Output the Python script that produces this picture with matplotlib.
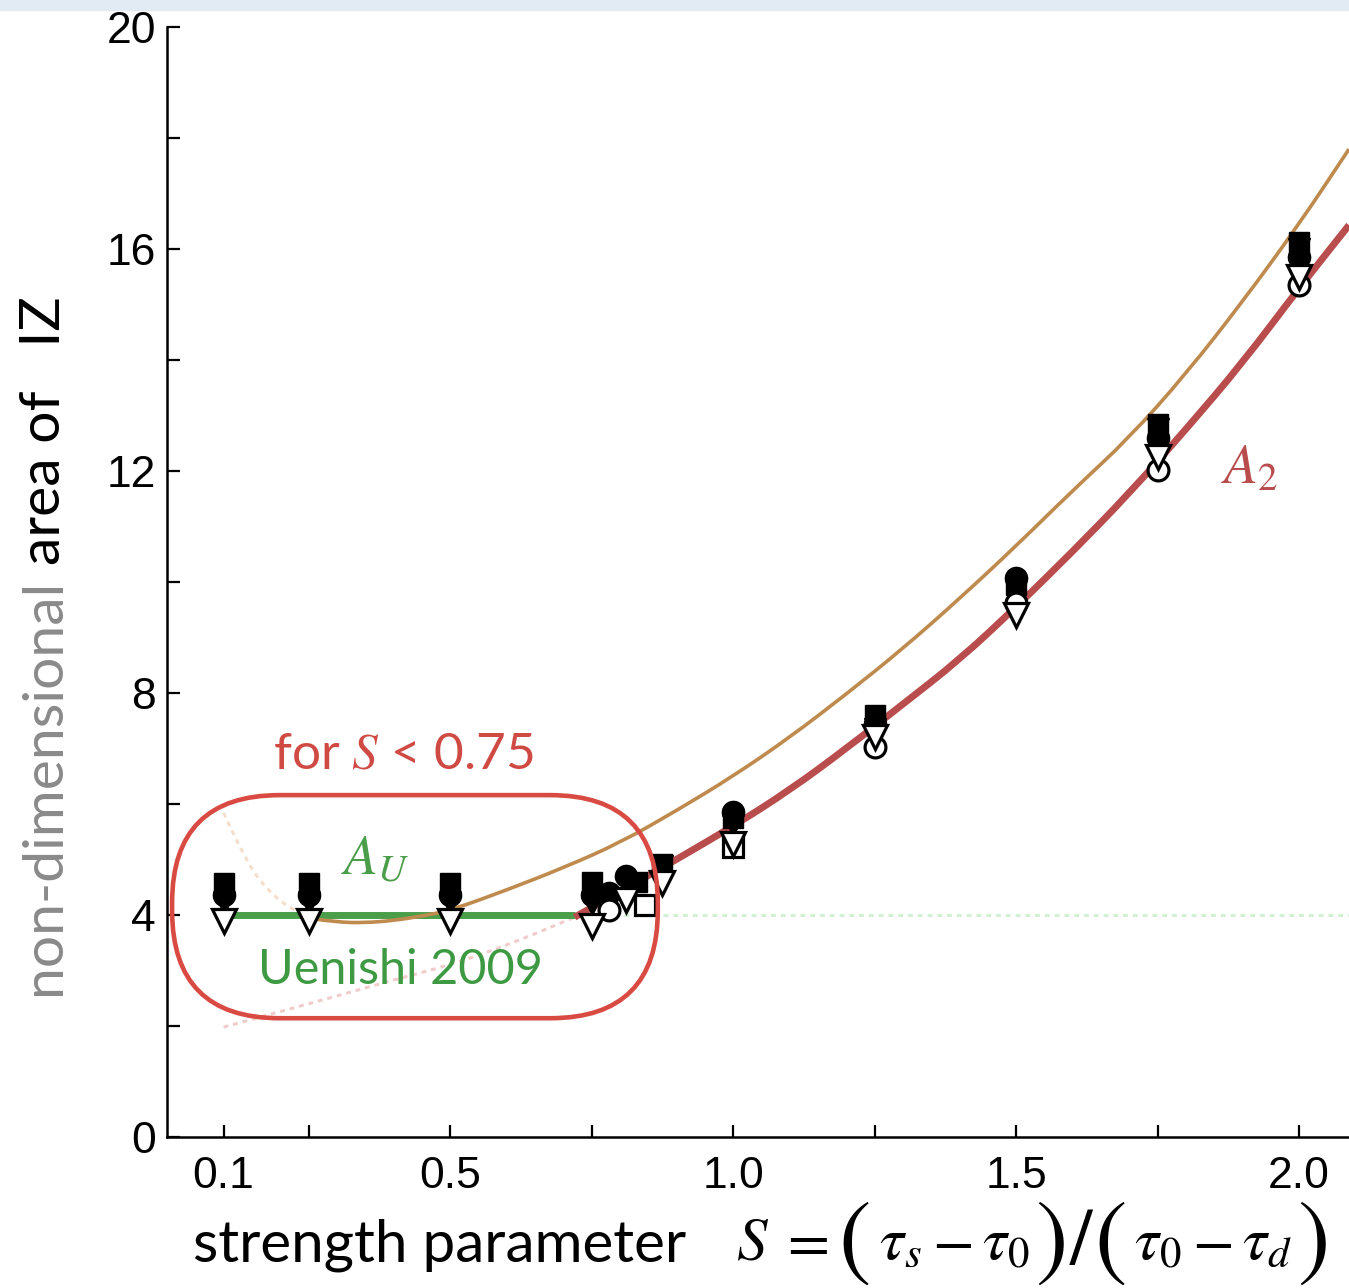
import matplotlib
matplotlib.use("Agg")
import matplotlib.pyplot as plt
from matplotlib.patches import FancyBboxPatch, Rectangle, PathPatch
from matplotlib.path import Path

plt.rcParams['mathtext.fontset'] = 'stix'

W, H = 1349, 1288

# uniform-stress solution (Uenishi 2009)
au_s = [0.1, 0.72]
au_v = [4.0, 4.0]
au_ext_s = [0.72, 2.088]

# A2 curve, read along S
a2_s = [0.1, 0.2, 0.3, 0.4, 0.5, 0.6, 0.72, 0.8, 0.9, 1.0, 1.1, 1.2, 1.3,
        1.4, 1.5, 1.6, 1.7, 1.8, 1.9, 2.0, 2.088]
a2_v = [1.98, 2.26, 2.54, 2.83, 3.1, 3.45, 3.96, 4.42, 5.0, 5.6, 6.25, 7.0,
        7.8, 8.6, 9.55, 10.55, 11.6, 12.75, 13.95, 15.3, 16.43]

# second fitted curve (thin)
fit_s = [0.1, 0.14, 0.18, 0.22, 0.26, 0.3, 0.35, 0.4, 0.45, 0.5, 0.6, 0.7,
         0.8, 0.9, 1.0, 1.1, 1.2, 1.3, 1.4, 1.5, 1.6, 1.7, 1.8, 1.9, 2.0, 2.088]
fit_v = [5.84, 4.95, 4.42, 4.1, 3.93, 3.87, 3.86, 3.9, 3.98, 4.08, 4.45, 4.85,
         5.3, 5.88, 6.5, 7.2, 7.98, 8.8, 9.7, 10.65, 11.65, 12.6, 13.75, 15.05,
         16.45, 17.8]

# simulation results
sq_f_s = [0.1, 0.25, 0.5, 0.75, 0.83, 0.875, 1.0, 1.25, 1.5, 1.75, 2.0]
sq_f_v = [4.58, 4.58, 4.58, 4.6, 4.6, 4.92, 5.75, 7.6, 9.95, 12.85, 16.12]
ci_f_s = [0.1, 0.25, 0.5, 0.75, 0.78, 0.81, 1.0, 1.25, 1.5, 1.75, 2.0]
ci_f_v = [4.36, 4.36, 4.36, 4.36, 4.4, 4.7, 5.86, 7.45, 10.07, 12.6, 15.85]
tr_f_s = [0.1, 0.25, 0.5, 0.75, 0.875, 1.0, 1.25, 1.5, 1.75, 2.0]
tr_f_v = [4.22, 4.22, 4.22, 4.2, 4.88, 5.62, 7.35, 9.86, 12.75, 16.0]
ci_o_s = [0.78, 1.25, 1.5, 1.75, 2.0]
ci_o_v = [4.09, 7.03, 9.62, 12.02, 15.35]
sq_o_s = [0.845, 1.0]
sq_o_v = [4.18, 5.22]
tr_o_s = [0.1, 0.25, 0.5, 0.75, 0.81, 0.875, 1.0, 1.25, 1.5, 1.75, 2.0]
tr_o_v = [3.9, 3.9, 3.9, 3.8, 4.27, 4.58, 5.28, 7.2, 9.4, 12.25, 15.5]

xticks = [0.1, 0.25, 0.5, 0.75, 1.0, 1.25, 1.5, 1.75, 2.0]
xticklabels = ['0.1', '', '0.5', '', '1.0', '', '1.5', '', '2.0']
yticks = [0, 2, 4, 6, 8, 10, 12, 14, 16, 18, 20]
yticklabels = ['0', '', '4', '', '8', '', '12', '', '16', '', '20']


def smooth(ax, xs, ys, **kw):
    # quadratic bezier through midpoints, read points act as controls
    pts = list(zip(xs, ys))
    verts = [pts[0]]
    codes = [Path.MOVETO]
    for i in range(1, len(pts) - 1):
        mid = ((pts[i][0] + pts[i + 1][0]) / 2, (pts[i][1] + pts[i + 1][1]) / 2)
        verts += [pts[i], mid]
        codes += [Path.CURVE3, Path.CURVE3]
    verts.append(pts[-1])
    codes.append(Path.LINETO)
    ax.add_patch(PathPatch(Path(verts, codes), fill=False, **kw))


fig = plt.figure(figsize=(W / 100, H / 100), dpi=100)
fig.patches.append(Rectangle((0, 1 - 10 / H), 1, 10 / H, transform=fig.transFigure,
                             color='#e2eaf4', zorder=0))
ax = fig.add_axes([167 / W, 151 / H, 1182 / W, 1110 / H])
ax.set_xlim(0, 2.088)
ax.set_ylim(0, 20)

# split curves into dotted (outside validity) and solid parts
a2_lo = [i for i, s in enumerate(a2_s) if s <= 0.72]
a2_hi = [i for i, s in enumerate(a2_s) if s >= 0.72]
fit_lo = [i for i, s in enumerate(fit_s) if s <= 0.26]
fit_hi = [i for i, s in enumerate(fit_s) if s >= 0.26]

dots = (0, (1.6, 1.6))
smooth(ax, [a2_s[i] for i in a2_lo], [a2_v[i] for i in a2_lo], ec='#f0cccc',
       lw=2.2, ls=dots, zorder=1)
smooth(ax, [fit_s[i] for i in fit_lo], [fit_v[i] for i in fit_lo], ec='#f5dfcc',
       lw=2.2, ls=dots, zorder=1)
ax.plot(au_ext_s, [4.0, 4.0], color='#d3f0d3', lw=2.2, ls=dots, zorder=1)

ax.plot(au_s, au_v, color='#4a9e4a', lw=5, solid_capstyle='butt', zorder=2)
smooth(ax, [a2_s[i] for i in a2_hi], [a2_v[i] for i in a2_hi], ec='#b94d4d',
       lw=5, capstyle='butt', zorder=2)
smooth(ax, [fit_s[i] for i in fit_hi], [fit_v[i] for i in fit_hi], ec='#bf8a4e',
       lw=2.6, zorder=3)

ax.plot(sq_f_s, sq_f_v, 's', color='black', ms=15, zorder=4)
ax.plot(ci_f_s, ci_f_v, 'o', color='black', ms=16, zorder=4)
ax.plot(tr_f_s, tr_f_v, 'v', color='black', ms=16, zorder=4)
ax.plot(ci_o_s, ci_o_v, 'o', mfc='white', mec='black', mew=2.3, ms=15, zorder=5)
ax.plot(sq_o_s, sq_o_v, 's', mfc='white', mec='black', mew=2.3, ms=14, zorder=5)
ax.plot(tr_o_s, tr_o_v, 'v', mfc='white', mec='black', mew=2.3, ms=17, zorder=6)

# range where the uniform solution holds
box = FancyBboxPatch((0.009, 2.14), 0.858, 4.02,
                     boxstyle='round,pad=0,rounding_size=0.19',
                     mutation_aspect=10.2, fill=False, ec='#d84a42', lw=3.3,
                     zorder=7, clip_on=False)
ax.add_patch(box)

ax.text(0.417, 6.9, 'for $S$ < 0.75', color='#d04a44', fontsize=37,
        family='Lato', ha='center', va='center')
ax.text(0.413, 3.0, 'Uenishi 2009', color='#3e9a42', fontsize=35,
        family='Lato', ha='center', va='center')
ax.text(0.368, 5.0, '$A_U$', color='#4a9e4a', fontsize=40, ha='center', va='center')
ax.text(1.913, 12.05, '$A_2$', color='#b94d4d', fontsize=40, ha='center', va='center')

for side in ['top', 'right']:
    ax.spines[side].set_visible(False)
for side in ['left', 'bottom']:
    ax.spines[side].set_linewidth(1.8)
ax.set_xticks(xticks)
ax.set_xticklabels(xticklabels)
ax.set_yticks(yticks)
ax.set_yticklabels(yticklabels)
ax.tick_params(direction='in', length=9, width=1.6, labelsize=32, pad=8)
ax.tick_params(axis='x', pad=14)
for lab in ax.get_xticklabels() + ax.get_yticklabels():
    lab.set_family('Liberation Sans')

# x label: words, then the formula laid out piece by piece
yc = 43 / H
fig.canvas.draw()
rend = fig.canvas.get_renderer()
t = fig.text(193 / W, yc, 'strength parameter', fontsize=42, family='Lato',
             ha='left', va='center')
x = t.get_window_extent(rend).x1 + 50
pieces = [('$S$', 44, 0), ('$=$', 44, 10), ('(', 70, 10), (r'$\tau_s$', 44, 8),
          ('$-$', 44, 10), (r'$\tau_0$', 44, 10), (')', 70, 6), ('/', 58, 2),
          ('(', 70, 2), (r'$\tau_0$', 44, 8), ('$-$', 44, 10),
          (r'$\tau_d$', 44, 10), (')', 70, 6)]
for txt, fs, gap in pieces:
    x += gap
    p = fig.text(x / W, yc, txt, fontsize=fs, family='STIXGeneral',
                 ha='left', va='center')
    x = p.get_window_extent(rend).x1

# y label in two colours
t1 = fig.text(45 / W, (H - 995) / H, 'non-dimensional', rotation=90, fontsize=41,
              family='Lato', color='#8a8a8a', ha='center', va='bottom')
bb = t1.get_window_extent(rend)
fig.text(45 / W, (bb.y1 + 14) / H, 'area of   IZ', rotation=90, fontsize=41,
         family='Lato', color='black', ha='center', va='bottom')

fig.savefig('out.png', dpi=100)
